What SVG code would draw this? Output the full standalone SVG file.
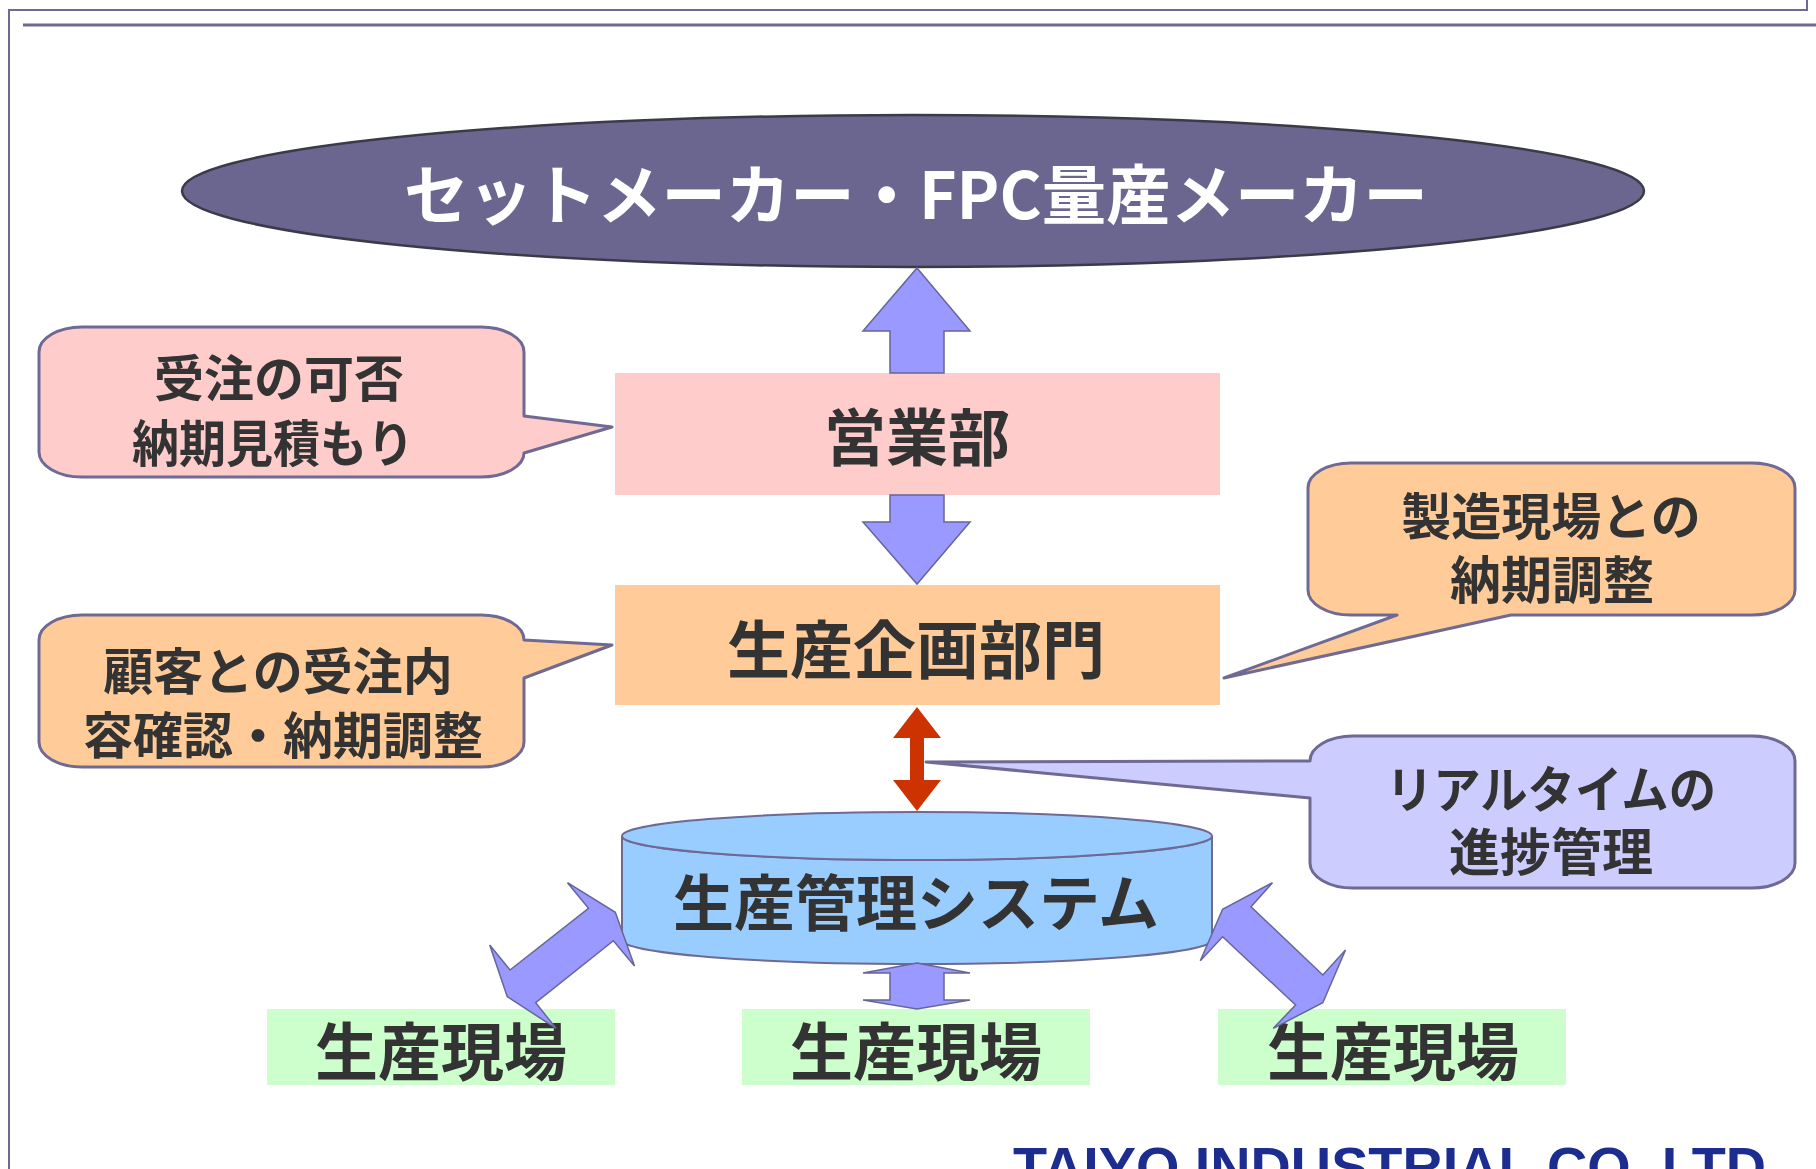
<svg xmlns="http://www.w3.org/2000/svg" width="1816" height="1169" viewBox="0 0 1816 1169">
<defs>
<style>
.frame{fill:none;stroke:#6e6a93}
.jp{font-family:"Noto Sans CJK JP","Noto Sans CJK SC",sans-serif;font-weight:bold;fill:#333333;text-anchor:middle}
.callout{stroke:#6e6a93;stroke-width:3;stroke-linejoin:round}
.box{stroke:none}
.barrow{fill:#9999ff;stroke:#666699;stroke-width:1.5;stroke-linejoin:miter}
</style>
</defs>
<rect x="0" y="0" width="1816" height="1169" fill="#ffffff"/>
<g id="frame">
<polyline class="frame" stroke-width="2" points="9,1169 9,10 1807,10 1807,0"/>
<line class="frame" stroke-width="3" x1="23" y1="25" x2="1816" y2="25"/>
</g>
<g id="node-makers">
<ellipse cx="913" cy="191" rx="731" ry="76" fill="#6b6690" stroke="#3a3a48" stroke-width="2.5"/>
<text class="jp" x="916" y="219" font-size="65" style="fill:#ffffff" textLength="1024" lengthAdjust="spacingAndGlyphs">セットメーカー・FPC量産メーカー</text>
</g>
<g id="node-sales">
<rect class="box" x="615" y="373" width="605" height="122" fill="#ffcccc"/>
<text class="jp" x="917" y="461" font-size="62">営業部</text>
</g>
<g id="node-planning">
<rect class="box" x="615" y="585" width="605" height="120" fill="#ffcc99"/>
<text class="jp" x="916" y="673" font-size="63">生産企画部門</text>
</g>
<g id="node-system">
<path d="M622,836 V940 A295,24 0 0 0 1212,940 V836 A295,24 0 0 1 622,836 Z" fill="#99ccff" stroke="#6e6a93" stroke-width="2"/>
<ellipse cx="917" cy="836" rx="295" ry="24" fill="#99ccff" stroke="#6e6a93" stroke-width="2"/>
<text class="jp" x="916" y="926" font-size="61">生産管理システム</text>
</g>
<g id="node-site-1">
<rect class="box" x="267" y="1009" width="348" height="76" fill="#ccffcc"/>
<text class="jp" x="441" y="1075" font-size="63">生産現場</text>
</g>
<g id="node-site-2">
<rect class="box" x="742" y="1009" width="348" height="76" fill="#ccffcc"/>
<text class="jp" x="916" y="1075" font-size="63">生産現場</text>
</g>
<g id="node-site-3">
<rect class="box" x="1218" y="1009" width="348" height="76" fill="#ccffcc"/>
<text class="jp" x="1393" y="1075" font-size="63">生産現場</text>
</g>
<g id="callout-sales">
<path class="callout" fill="#ffcccc" d="M82,327 H481 A43,25 0 0 1 524,352 V416 L612,427 L524,453 A43,24 0 0 1 481,477 H82 A43,25 0 0 1 39,452 V352 A43,25 0 0 1 82,327 Z"/>
<text class="jp" x="279" y="397" font-size="50">受注の可否</text>
<text class="jp" x="273" y="462" font-size="50" textLength="282" lengthAdjust="spacingAndGlyphs">納期見積もり</text>
</g>
<g id="callout-planning-left">
<path class="callout" fill="#ffcc99" d="M82,615 H481 A43,25 0 0 1 524,640 L612,645 L524,678 V742 A43,25 0 0 1 481,767 H82 A43,25 0 0 1 39,742 V640 A43,25 0 0 1 82,615 Z"/>
<text class="jp" x="278" y="690" font-size="50">顧客との受注内</text>
<text class="jp" x="283" y="754" font-size="50">容確認・納期調整</text>
</g>
<g id="callout-planning-right">
<path class="callout" fill="#ffcc99" d="M1351,463 H1752 A43,25 0 0 1 1795,488 V590 A43,25 0 0 1 1752,615 H1511 L1224,678 L1397,615 H1351 A43,25 0 0 1 1308,590 V488 A43,25 0 0 1 1351,463 Z"/>
<text class="jp" x="1551" y="535" font-size="50">製造現場との</text>
<text class="jp" x="1552" y="599" font-size="51">納期調整</text>
</g>
<g id="callout-progress">
<path class="callout" fill="#ccccff" d="M1353,736 H1752 A43,25 0 0 1 1795,761 V863 A43,25 0 0 1 1752,888 H1353 A43,25 0 0 1 1310,863 V798 L926,762 L1310,761 A43,25 0 0 1 1353,736 Z"/>
<text class="jp" x="1551" y="808" font-size="50" textLength="330" lengthAdjust="spacingAndGlyphs">リアルタイムの</text>
<text class="jp" x="1551" y="871" font-size="51">進捗管理</text>
</g>
<g id="connectors">
<polygon class="barrow" points="917,268 970,331 944,331 944,373 890,373 890,331 863,331"/>
<polygon class="barrow" points="890,495 944,495 944,522 970,522 917,584 863,522 890,522"/>
<polygon points="917,707 941,738 924,738 924,780 941,780 917,811 893,780 910,780 910,738 893,738" fill="#cc3300"/>
<polygon class="barrow" points="917,963 970,973 944,973 944,1000 970,1000 917,1009 863,1000 890,1000 890,973 863,973"/>
<polygon class="barrow" points="567.5,882.7 615.3,912.3 634.5,966 613.4,940.7 535.7,1002.7 556,1028.3 507.3,996.7 489.7,945 510,970 588.5,908.3"/>
<polygon class="barrow" points="1272.5,882.7 1222.6,909.3 1200.3,960.7 1222.6,936.7 1295.6,1005 1273.3,1028.3 1322.8,1002.7 1345.5,950 1322.8,975 1251,906.7"/>
</g>
<g id="logo">
<text x="1013" y="1186" font-family="'Liberation Sans',Arial,sans-serif" font-weight="bold" font-size="55" fill="#1c2d8f" textLength="753" lengthAdjust="spacingAndGlyphs">TAIYO INDUSTRIAL CO.,LTD</text>
</g>
</svg>
